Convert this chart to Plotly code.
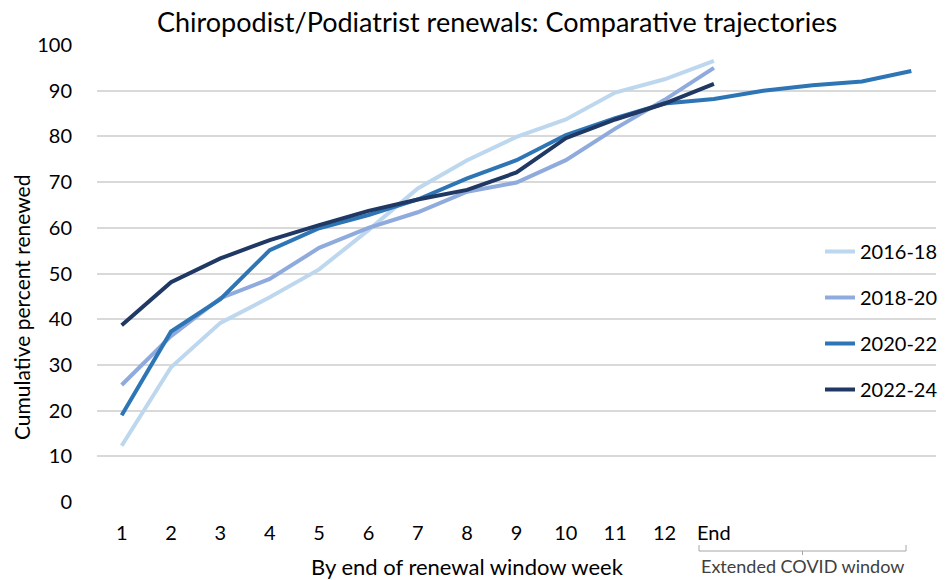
import plotly.graph_objects as go

weeks = ["1", "2", "3", "4", "5", "6", "7", "8", "9", "10", "11", "12", "End"]
ext_points = 4  # extra unlabeled categories in the extended COVID window

s2016_18 = [12.3, 29.5, 39.2, 44.8, 50.9, 59.5, 68.6, 74.8, 79.9, 83.7, 89.6, 92.5, 96.5]
s2018_20 = [25.6, 36.3, 44.6, 48.8, 55.6, 60.0, 63.4, 67.9, 69.9, 74.8, 81.7, 88.0, 95.0]
s2020_22 = [19.0, 37.3, 44.4, 55.1, 59.9, 62.8, 66.2, 70.8, 74.8, 80.3, 84.0, 87.2, 88.2, 90.0, 91.2, 92.0, 94.3]
s2022_24 = [38.7, 48.1, 53.3, 57.3, 60.6, 63.7, 66.2, 68.3, 72.1, 79.6, 83.7, 87.2, 91.5]

series = [
    ("2016-18", s2016_18, "#BDD7EE"),
    ("2018-20", s2018_20, "#8FAADC"),
    ("2020-22", s2020_22, "#2E75B6"),
    ("2022-24", s2022_24, "#203864"),
]

W, H = 946, 580
L, R, T, B = 97, 10, 45, 78
FONT = "Lato"

fig = go.Figure()
for name, vals, col in series:
    fig.add_trace(go.Scatter(
        x=list(range(1, len(vals) + 1)), y=vals, mode="lines", name=name,
        line=dict(color=col, width=4), legendgroup=name,
    ))

n_cat = len(weeks) + ext_points

def px_to_paper_y(py):
    return (H - B - py) / (H - T - B)

def px_to_paper_x(pxv):
    return (pxv - L) / (W - L - R)

fig.update_layout(
    width=W, height=H,
    margin=dict(l=L, r=R, t=T, b=B, autoexpand=False),
    paper_bgcolor="white", plot_bgcolor="white",
    font=dict(family=FONT, size=20, color="#000000"),
    title=dict(text="Chiropodist/Podiatrist renewals: Comparative trajectories",
               x=497 / W, xanchor="center",
               y=1 - 23 / H, yanchor="middle",
               font=dict(size=27, family=FONT, color="#000000")),
    xaxis=dict(range=[0.5, n_cat + 0.5], tickmode="array",
               tickvals=list(range(1, len(weeks) + 1)), ticktext=weeks,
               showgrid=False, zeroline=False, showline=False, ticks="",
               ticklabelstandoff=17, tickfont=dict(size=20), automargin=False),
    yaxis=dict(range=[0, 100], dtick=10, showgrid=True, gridcolor="#D9D9D9",
               gridwidth=1.5, zeroline=False, showline=False, ticks="",
               ticklabelstandoff=24, tickfont=dict(size=20), automargin=False),
    legend=dict(x=px_to_paper_x(820), xanchor="left", y=px_to_paper_y(232), yanchor="top",
                bgcolor="rgba(0,0,0,0)", font=dict(size=20), tracegroupgap=17,
                itemwidth=30),
    showlegend=True,
)

# axis titles
fig.add_annotation(text="By end of renewal window week", xref="paper", yref="paper",
                   x=px_to_paper_x(467), y=px_to_paper_y(566), xanchor="center", yanchor="middle",
                   showarrow=False, font=dict(size=22))
fig.add_annotation(text="Cumulative percent renewed", xref="paper", yref="paper",
                   x=px_to_paper_x(21), y=px_to_paper_y(308), xanchor="center", yanchor="middle",
                   textangle=-90, showarrow=False, font=dict(size=21))

# extended COVID window bracket
bx0, bx1, by = px_to_paper_x(699), px_to_paper_x(906), px_to_paper_y(551)
bcol = "#A6A6A6"
fig.add_shape(type="line", xref="paper", yref="paper", x0=bx0, x1=bx1, y0=by, y1=by,
              line=dict(color=bcol, width=1))
for bx in (bx0, bx1):
    fig.add_shape(type="line", xref="paper", yref="paper", x0=bx, x1=bx, y0=by,
                  y1=px_to_paper_y(545), line=dict(color=bcol, width=1))
bm = (bx0 + bx1) / 2
fig.add_shape(type="line", xref="paper", yref="paper", x0=bm, x1=bm, y0=by,
              y1=px_to_paper_y(555), line=dict(color=bcol, width=1))
fig.add_annotation(text="Extended COVID window", xref="paper", yref="paper",
                   x=bm, y=px_to_paper_y(566), xanchor="center", yanchor="middle",
                   showarrow=False, font=dict(size=18, color="#404040"))

fig.write_html("out.html", config={"displayModeBar": False},
               post_script="document.body.style.margin='0';document.body.style.overflow='hidden';")
